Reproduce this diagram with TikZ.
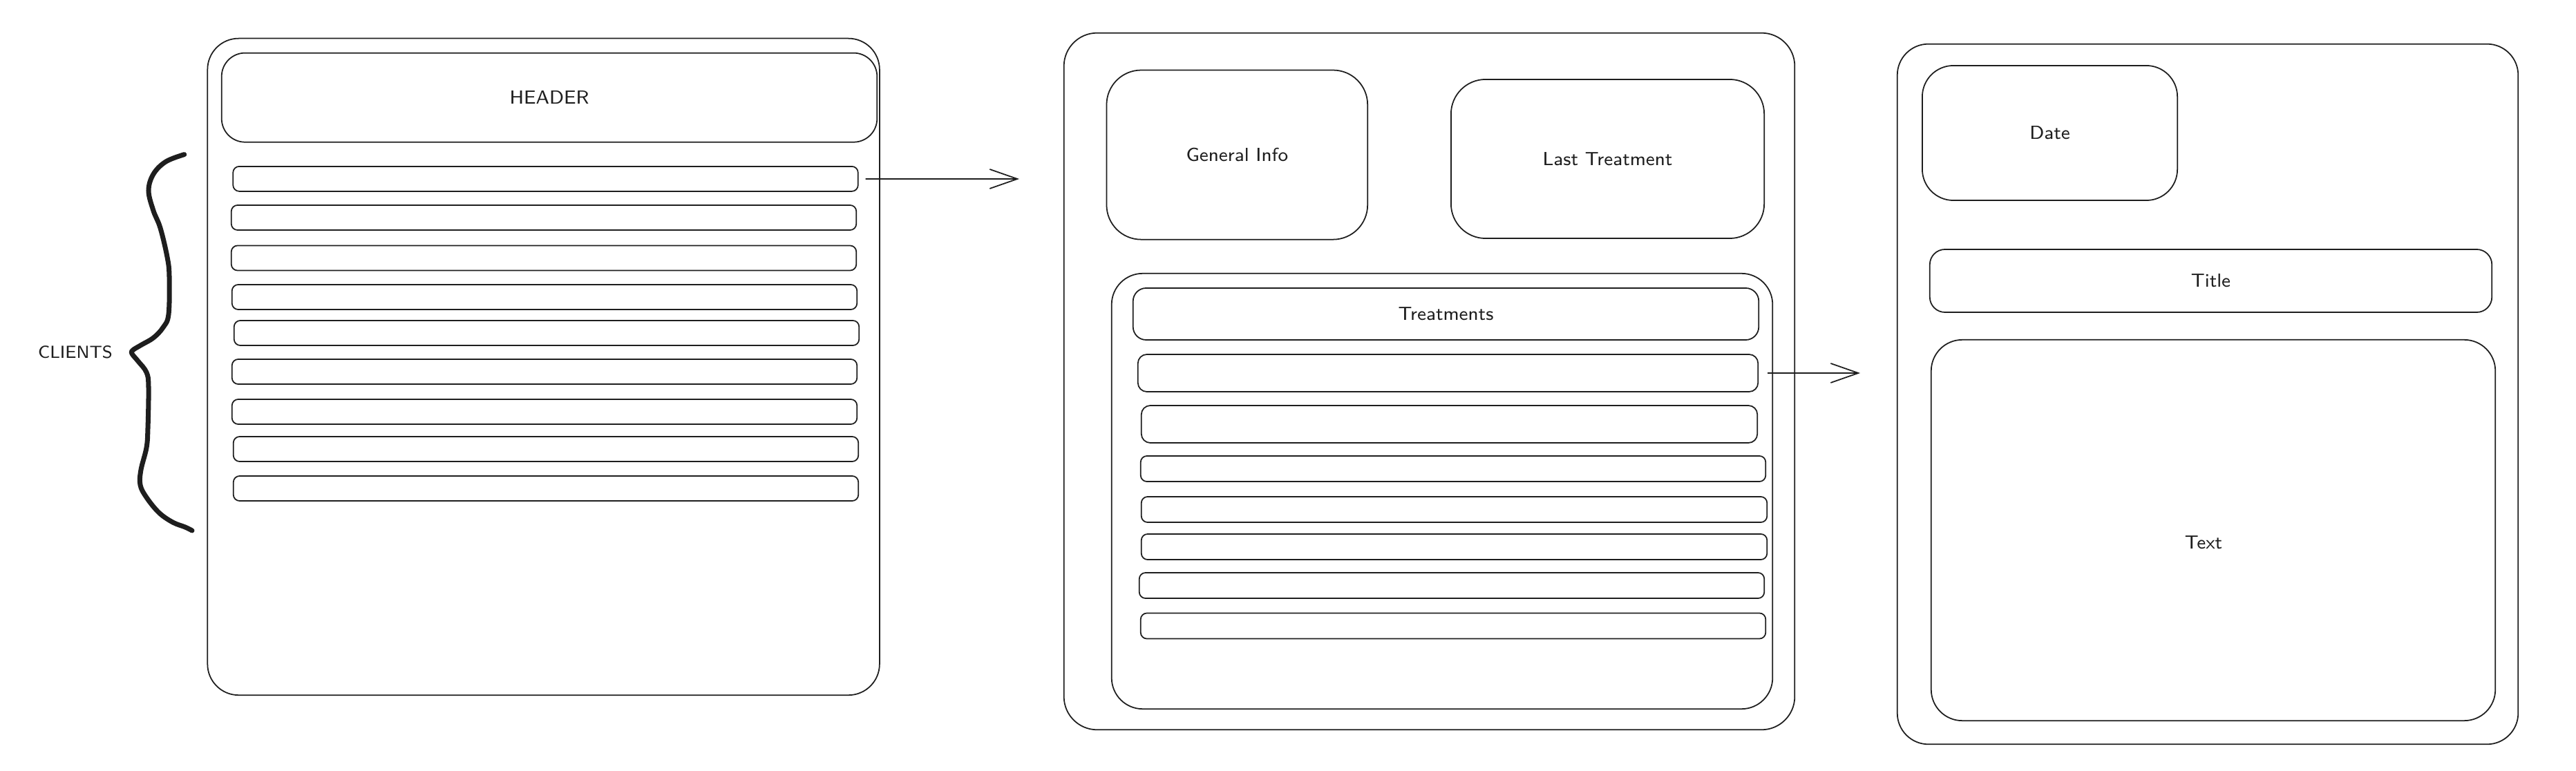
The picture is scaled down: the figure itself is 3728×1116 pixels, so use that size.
\documentclass[tikz,border=0pt]{standalone}
\usepackage{amsmath}
\usepackage{tikz}
\usetikzlibrary{arrows.meta}
\definecolor{ink}{HTML}{1E1E1E}

\begin{document}
\begin{tikzpicture}[x=0.01cm, y=-0.01cm, line width=0.5pt, color=ink, every node/.style={draw, inner sep=0pt, font=\sffamily\fontsize{7.8}{9}\selectfont}, page/.style={rounded corners=0.45cm}, card/.style={rounded corners=0.5cm}, bar/.style={minimum width=9.04cm, minimum height=0.36cm, rounded corners=0.09cm}]
\useasboundingbox (0,0) rectangle (3728,1116);
% Clients screen
\node[page, minimum width=9.72cm, minimum height=9.50cm] (Clients) at (786.6,530.9) {}; % Page
\node[rounded corners=0.34cm, minimum width=9.48cm, minimum height=1.29cm] (Header) at (795,141.2) {HEADER}; % Top
\node[bar] (C1) at (789.5,258.9) {};
\node[bar] (C2) at (787,315) {};
\node[bar] (C3) at (787,373.5) {};
\node[bar] (C4) at (788,430) {};
\node[bar] (C5) at (791,482) {};
\node[bar] (C6) at (788,538) {};
\node[bar] (C7) at (788,596) {};
\node[bar] (C8) at (790,650) {};
\node[bar] (C9) at (790,707) {};
\node[draw=none, font=\sffamily\fontsize{7.2}{9}\selectfont] (Lbl) at (109,510) {CLIENTS};
% Brace round the list
\draw[line width=2pt, line cap=round, line join=round] plot[smooth, tension=0.6] coordinates {(266.7,223.6) (240,234) (222,252) (215,276) (222,305) (232,330) (242,372) (245,400) (244,455) (236,474) (222,489) (205,499) (192,507) (191,512) (200,523) (212,539) (215,560) (214,620) (212,648) (204,680) (203,702) (212,720) (230,742) (250,756) (268,763) (278,768)};
% Client screen
\node[page, rounded corners=0.48cm, minimum width=10.57cm, minimum height=10.08cm] (Client) at (2068.5,552) {}; % Page
\node[card, minimum width=3.775cm, minimum height=2.45cm] (Info) at (1790.3,224.1) {General Info}; % Top-left
\node[card, minimum width=4.53cm, minimum height=2.30cm] (Last) at (2326.5,230) {Last Treatment}; % Top-right
\node[page, minimum width=9.56cm, minimum height=6.30cm] (Treat) at (2087,711) {}; % List
\node[rounded corners=0.19cm, minimum width=9.05cm, minimum height=0.75cm] (TH) at (2092.5,454.5) {Treatments};
\node[bar, rounded corners=0.13cm, minimum width=8.97cm, minimum height=0.54cm] (T1) at (2095.5,540) {};
\node[bar, rounded corners=0.13cm, minimum width=8.91cm, minimum height=0.54cm] (T2) at (2097.5,614) {};
\node[bar, minimum width=9.04cm, minimum height=0.37cm] (T3) at (2103,678.5) {};
\node[bar, minimum width=9.05cm, minimum height=0.37cm] (T4) at (2104.5,737.5) {};
\node[bar, minimum width=9.05cm, minimum height=0.37cm] (T5) at (2104.5,791.5) {};
\node[bar, minimum width=9.04cm, minimum height=0.37cm] (T6) at (2101,847.5) {};
\node[bar, minimum width=9.04cm, minimum height=0.37cm] (T7) at (2103,906) {};
% Treatment screen
\node[page, minimum width=8.98cm, minimum height=10.13cm] (Entry) at (3195,570.5) {}; % Page
\node[page, minimum width=3.69cm, minimum height=1.95cm] (Date) at (2966.5,192.5) {Date}; % Top-left
\node[rounded corners=0.22cm, minimum width=8.13cm, minimum height=0.91cm] (Title) at (3199.5,406.5) {Title};
\node[page, minimum width=8.16cm, minimum height=5.51cm, label={[draw=none, xshift=-0.14cm, yshift=-0.18cm]center:Text}] (Text) at (3203,767.5) {};
% Links between screens
\coordinate (A1) at (1475,259);
\coordinate (A2) at (2692,540);
\draw[-{Straight Barb[length=0.4cm, width=0.28cm]}, shorten <=0.1cm] (C1) -- (A1);
\draw[-{Straight Barb[length=0.4cm, width=0.28cm]}, shorten <=0.13cm] (T1) -- (A2);
\end{tikzpicture}
\end{document}
